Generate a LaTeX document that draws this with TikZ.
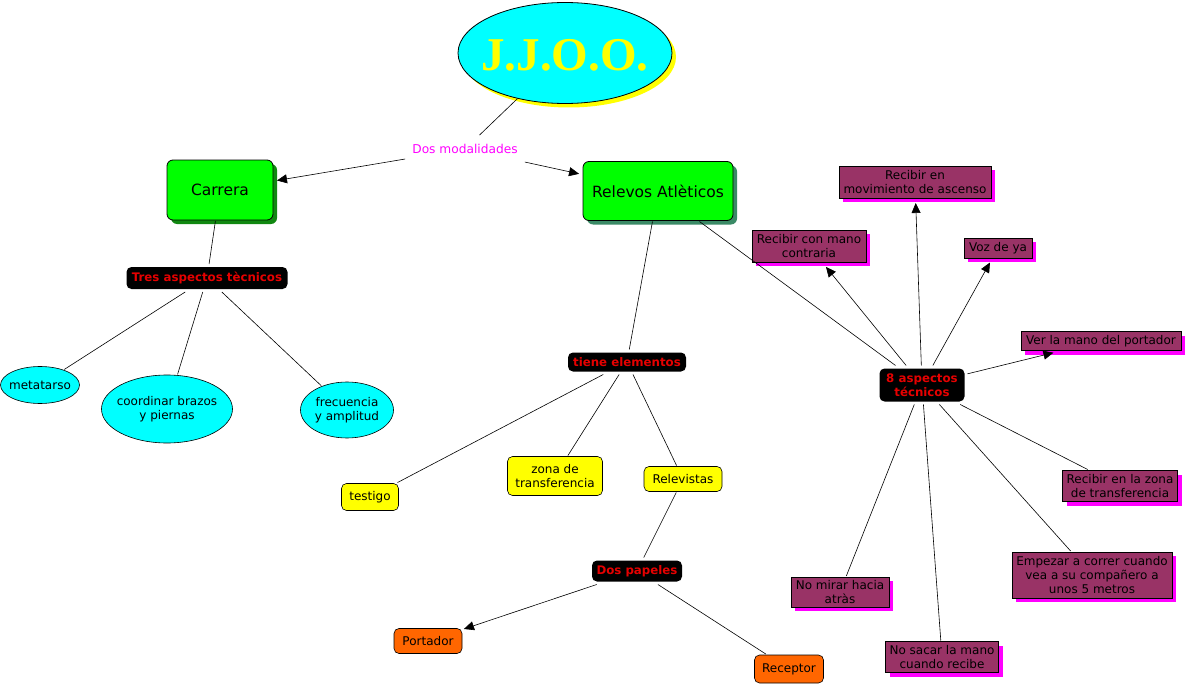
\documentclass[tikz,border=0pt]{standalone}
\usepackage{fontspec}
\setmainfont{DejaVu Sans}
\newfontfamily\jjoofont{Liberation Serif}
\usetikzlibrary{shapes.geometric,shadows,arrows.meta}
\definecolor{cgreen}{HTML}{00FF00}
\definecolor{cgreensh}{HTML}{118811}
\definecolor{rgreensh}{HTML}{3A8A66}
\definecolor{purp}{HTML}{993366}
\definecolor{mag}{HTML}{FF00FF}
\definecolor{orng}{HTML}{FF6600}
\definecolor{linkred}{HTML}{E60000}
\definecolor{cyn}{HTML}{00FFFF}
\definecolor{yel}{HTML}{FFFF00}
\tikzset{
  small/.style={font=\fontsize{12}{14.3}\selectfont},
  concept/.style={draw=black, line width=0.8pt, rounded corners=6pt, fill=cgreen,
    font=\fontsize{15.5}{18}\selectfont, inner sep=0pt, outer sep=1pt},
  blk/.style={fill=black, rounded corners=5pt, text=linkred,
    font=\fontsize{11.8}{13.5}\selectfont\bfseries, align=center, inner sep=0pt, outer sep=3pt},
  cyanell/.style={ellipse, draw=black, line width=0.6pt, fill=cyn, inner sep=0pt, outer sep=1pt},
  elltext/.style={small, align=center, inner sep=0pt},
  ybox/.style={draw=black, line width=0.6pt, fill=yel, rounded corners=5pt, align=center, small, inner sep=0pt, outer sep=1pt},
  obox/.style={ybox, fill=orng},
  pbox/.style={draw=black, line width=0.7pt, fill=purp, align=center, small, inner sep=0pt, outer sep=1pt,
    drop shadow={shadow xshift=4pt, shadow yshift=-4pt, fill=mag, opacity=1}},
  conn/.style={draw=black, line width=0.6pt},
  arr/.style={conn, -{Triangle[length=10pt,width=9pt]}, shorten >=3pt},
}
\begin{document}
\begin{tikzpicture}[x=1pt,y=-1pt]
\useasboundingbox[fill=white] (0,0) rectangle (1187,685);

% main concept
\node[ellipse, draw=black, line width=0.8pt, fill=cyn, minimum width=214pt, minimum height=101pt, inner sep=0pt,
  drop shadow={shadow xshift=4pt, shadow yshift=-4pt, fill=yel, opacity=1},
  label={[inner sep=0pt, yshift=-2pt, font=\jjoofont\bfseries\fontsize{47}{50}\selectfont, text=yel]center:J.J.O.O.}] (jjoo) at (565,53) {};

\node[text=mag, font=\fontsize{12.2}{14}\selectfont, inner xsep=7pt, inner ysep=9pt] (dosmod) at (465,149) {Dos modalidades};

\node[concept, minimum width=106pt, minimum height=60pt,
  drop shadow={shadow xshift=4pt, shadow yshift=-4pt, fill=cgreensh, opacity=1}] (carrera) at (220,190) {Carrera};
\node[concept, minimum width=150pt, minimum height=59pt,
  drop shadow={shadow xshift=4pt, shadow yshift=-4pt, fill=rgreensh, opacity=1}] (relevos) at (658,191) {Relevos Atlèticos};

% Carrera branch
\node[blk, minimum width=161pt, minimum height=22pt] (tres) at (207,278) {Tres aspectos tècnicos};
\node[cyanell, minimum width=79pt, minimum height=37pt, label={[elltext]center:metatarso}] (meta) at (40,385) {};
\node[cyanell, minimum width=131pt, minimum height=68pt, label={[elltext]center:coordinar brazos\\y piernas}] (coord) at (167,409) {};
\node[cyanell, minimum width=93pt, minimum height=56pt, label={[elltext]center:frecuencia\\y amplitud}] (frec) at (347,410) {};

% Relevos branch
\node[blk, minimum width=118pt, minimum height=19pt] (tiene) at (627,362) {tiene elementos};
\node[ybox, minimum width=57pt, minimum height=27pt] (testigo) at (370,497) {testigo};
\node[ybox, minimum width=95pt, minimum height=39pt] (zona) at (555,476) {zona de\\transferencia};
\node[ybox, minimum width=78pt, minimum height=25pt] (relevistas) at (683,479) {Relevistas};
\node[blk, minimum width=90pt, minimum height=21pt] (dospap) at (637,571) {Dos papeles};
\node[obox, minimum width=68pt, minimum height=25pt] (portador) at (428,641) {Portador};
\node[obox, minimum width=69pt, minimum height=28pt] (receptor) at (789,669) {Receptor};

% 8 aspectos
\node[blk, minimum width=85pt, minimum height=33pt] (ocho) at (922,385) {8 aspectos\\técnicos};
\node[pbox, minimum width=152pt, minimum height=32pt] (rmov) at (915,182) {Recibir en\\movimiento de ascenso};
\node[pbox, minimum width=114pt, minimum height=32pt] (rcon) at (809,246) {Recibir con mano\\contraria};
\node[pbox, minimum width=68pt, minimum height=20pt] (voz) at (998,248) {Voz de ya};
\node[pbox, minimum width=160pt, minimum height=19pt] (ver) at (1101,341) {Ver la mano del portador};
\node[pbox, minimum width=115pt, minimum height=31pt] (rzona) at (1120,486) {Recibir en la zona\\de transferencia};
\node[pbox, minimum width=160pt, minimum height=46pt] (empezar) at (1092,575) {Empezar a correr cuando\\vea a su compañero a\\unos 5 metros};
\node[pbox, minimum width=98pt, minimum height=30pt] (nomirar) at (840,592) {No mirar hacia\\atràs};
\node[pbox, minimum width=113pt, minimum height=31pt] (nosacar) at (942,657) {No sacar la mano\\cuando recibe};

% connectors
\draw[conn] (jjoo) -- (dosmod);
\draw[arr] (dosmod) -- (carrera);
\draw[arr] (dosmod) -- (relevos);
\draw[conn] (carrera) -- (tres);
\draw[conn] (tres) -- (meta);
\draw[conn] (tres) -- (coord);
\draw[conn] (tres) -- (frec);
\draw[conn] (relevos) -- (tiene);
\draw[conn] (tiene) -- (testigo);
\draw[conn] (tiene) -- (zona);
\draw[conn] (tiene) -- (relevistas);
\draw[conn] (relevistas) -- (dospap);
\draw[arr, shorten >=1pt] (dospap) -- (portador);
\draw[conn] (dospap) -- (receptor);
\draw[conn] (relevos) -- (ocho);
\draw[arr, shorten >=5pt] (ocho) -- (rcon);
\draw[arr, shorten >=4pt] (ocho) -- (rmov);
\draw[arr, shorten >=4pt] (ocho) -- (voz);
\draw[arr, shorten >=5pt] (ocho) -- (ver);
\draw[conn] (ocho) -- (nomirar);
\draw[conn] (ocho) -- (nosacar);
\draw[conn] (ocho) -- (empezar);
\draw[conn] (ocho) -- (rzona);
\end{tikzpicture}
\end{document}
